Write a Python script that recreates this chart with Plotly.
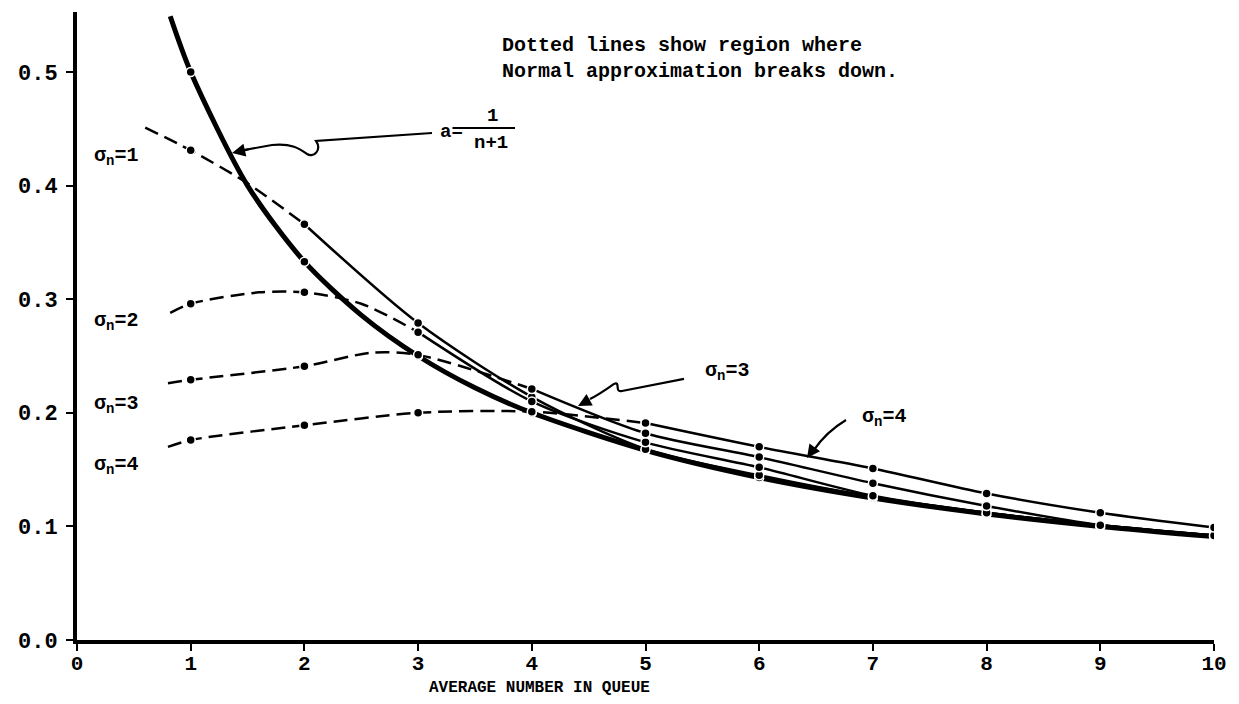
import plotly.graph_objects as go

# curva a = 1/(n+1) (trazo grueso)
x_a = [0.82, 1, 1.5, 2, 2.5, 3, 3.5, 4, 5, 6, 7, 8, 9, 10]
y_a = [0.549, 0.500, 0.400, 0.333, 0.286, 0.250, 0.222, 0.200, 0.167, 0.143, 0.125, 0.111, 0.100, 0.091]

# sigma_n = 1
x_s1 = [0.6, 1, 1.5, 2, 3, 4, 5, 6, 7, 8, 9, 10]
y_s1 = [0.451, 0.431, 0.402, 0.366, 0.279, 0.214, 0.168, 0.145, 0.126, 0.112, 0.101, 0.092]
corte_s1 = 3

# sigma_n = 2
x_s2 = [0.82, 1, 1.6, 2, 2.5, 3, 4, 5, 6, 7, 8, 9, 10]
y_s2 = [0.288, 0.296, 0.306, 0.306, 0.296, 0.271, 0.210, 0.174, 0.152, 0.127, 0.112, 0.101, 0.092]
corte_s2 = 5

# sigma_n = 3
x_s3 = [0.8, 1, 2, 2.6, 3, 4, 5, 6, 7, 8, 9, 10]
y_s3 = [0.226, 0.229, 0.241, 0.253, 0.251, 0.221, 0.182, 0.161, 0.138, 0.118, 0.101, 0.092]
corte_s3 = 5

# sigma_n = 4
x_s4 = [0.8, 1, 2, 3, 4, 5, 6, 7, 8, 9, 10]
y_s4 = [0.170, 0.176, 0.189, 0.200, 0.201, 0.191, 0.170, 0.151, 0.129, 0.112, 0.099]
corte_s4 = 5

ticks_y = [0.0, 0.1, 0.2, 0.3, 0.4, 0.5]
ticks_x = [0, 1, 2, 3, 4, 5, 6, 7, 8, 9, 10]

FUENTE = "Liberation Mono, Courier New, monospace"

# la página deja 8 px de margen en el body
DESP = 8


# pixeles de la imagen -> coordenadas de datos
def cx(p):
    return (p - 77) / 113.7


def cy(p):
    return (640 - p) / 1136


fig = go.Figure()


def agregar_curva(x, y, corte, ancho):
    linea = dict(color="black", width=ancho, shape="spline", smoothing=0.8)
    if corte > 0:
        fig.add_trace(go.Scatter(
            x=x[:corte + 1], y=y[:corte + 1], mode="lines",
            line=dict(linea, dash="14px,7px")
        ))
    fig.add_trace(go.Scatter(x=x[corte:], y=y[corte:], mode="lines", line=linea))
    xi = [v for v in x if float(v).is_integer()]
    yi = [y[i] for i, v in enumerate(x) if float(v).is_integer()]
    fig.add_trace(go.Scatter(
        x=xi, y=yi, mode="markers",
        marker=dict(color="black", size=9, line=dict(color="white", width=1.5))
    ))


agregar_curva(x_a, y_a, 0, 5)
agregar_curva(x_s1, y_s1, corte_s1, 2.5)
agregar_curva(x_s2, y_s2, corte_s2, 2.5)
agregar_curva(x_s3, y_s3, corte_s3, 2.5)
agregar_curva(x_s4, y_s4, corte_s4, 2.5)

texto = dict(family=FUENTE, color="black", weight="bold")

fig.add_annotation(
    x=cx(500), y=cy(59), xanchor="left", yanchor="middle", align="left",
    text="Dotted lines show region where<br>Normal approximation breaks down.",
    showarrow=False, font=dict(texto, size=20)
)

# etiquetas sigma a la izquierda
for etiqueta, py in [("1", 157), ("2", 322), ("3", 405), ("4", 466)]:
    fig.add_annotation(
        x=cx(92), y=cy(py), xanchor="left", yanchor="middle",
        text="σ<sub>n</sub>=" + etiqueta, showarrow=False, font=dict(texto, size=20)
    )

# a = 1/(n+1)
fig.add_annotation(x=cx(438), y=cy(132), xanchor="left", text="a=",
                   showarrow=False, font=dict(texto, size=19))
fig.add_annotation(x=cx(492), y=cy(116), text="1", showarrow=False, font=dict(texto, size=19))
fig.add_annotation(x=cx(491), y=cy(143), text="n+1", showarrow=False, font=dict(texto, size=19))
fig.add_shape(type="line", x0=cx(461), x1=cx(515), y0=cy(128), y1=cy(128),
              line=dict(color="black", width=2))


def ruta(puntos):
    partes = []
    for cmd, pts in puntos:
        partes.append(cmd + " ".join(f"{cx(a):.4f},{cy(b):.4f}" for a, b in pts))
    return " ".join(partes)


conector = dict(color="black", width=2.2)
fig.add_shape(type="path", line=conector, path=ruta([
    ("M", [(432, 133)]), ("L", [(316, 141)]),
    ("C", [(322, 150), (314, 158), (307, 154)]),
    ("C", [(300, 149), (292, 143), (272, 145)]),
    ("L", [(244, 150)]),
]))
fig.add_annotation(x=cx(232), y=cy(153), ax=18, ay=-4, text="", showarrow=True,
                   arrowhead=2, arrowsize=1.2, arrowwidth=2.2, arrowcolor="black")

# sigma_n = 3 en el centro
fig.add_annotation(x=cx(703), y=cy(372), xanchor="left", yanchor="middle",
                   text="σ<sub>n</sub>=3", showarrow=False, font=dict(texto, size=20))
fig.add_shape(type="path", line=conector, path=ruta([
    ("M", [(684, 379)]), ("L", [(622, 391)]),
    ("C", [(614, 393), (621, 381), (614, 384)]),
    ("C", [(608, 388), (600, 394), (590, 399)]),
]))
fig.add_annotation(x=cx(578), y=cy(406), ax=13, ay=-7, text="", showarrow=True,
                   arrowhead=2, arrowsize=1.2, arrowwidth=2.2, arrowcolor="black")

# sigma_n = 4 a la derecha
fig.add_annotation(x=cx(860), y=cy(418), xanchor="left", yanchor="middle",
                   text="σ<sub>n</sub>=4", showarrow=False, font=dict(texto, size=20))
fig.add_shape(type="path", line=conector, path=ruta([
    ("M", [(846, 420)]), ("Q", [(826, 432), (814, 450)]),
]))
fig.add_annotation(x=cx(807), y=cy(458), ax=8, ay=-11, text="", showarrow=True,
                   arrowhead=2, arrowsize=1.2, arrowwidth=2.2, arrowcolor="black")

# título del eje x, bajo las etiquetas de las marcas
fig.add_annotation(
    x=cx(539), y=(640 - 688) / 628, yref="paper", yanchor="middle",
    text="AVERAGE NUMBER IN QUEUE", showarrow=False, font=dict(texto, size=16)
)

fig.update_layout(
    width=1239 - DESP, height=704 - DESP,
    margin=dict(l=77 - DESP, r=25, t=12 - DESP, b=64),
    plot_bgcolor="white", paper_bgcolor="white",
    showlegend=False,
    xaxis=dict(
        range=[0, 10], tickvals=ticks_x, showgrid=False, zeroline=False,
        showline=True, linewidth=4, linecolor="black",
        ticks="outside", ticklen=7, tickwidth=2, tickcolor="black",
        tickfont=dict(texto, size=21), ticklabelstandoff=-6
    ),
    yaxis=dict(
        range=[0, 0.5528], tickvals=ticks_y, tickformat=".1f", showgrid=False, zeroline=False,
        showline=True, linewidth=4, linecolor="black",
        ticks="outside", ticklen=7, tickwidth=2, tickcolor="black",
        tickfont=dict(texto, size=22), ticklabelstandoff=4
    ),
)

fig.write_html("out.html")
